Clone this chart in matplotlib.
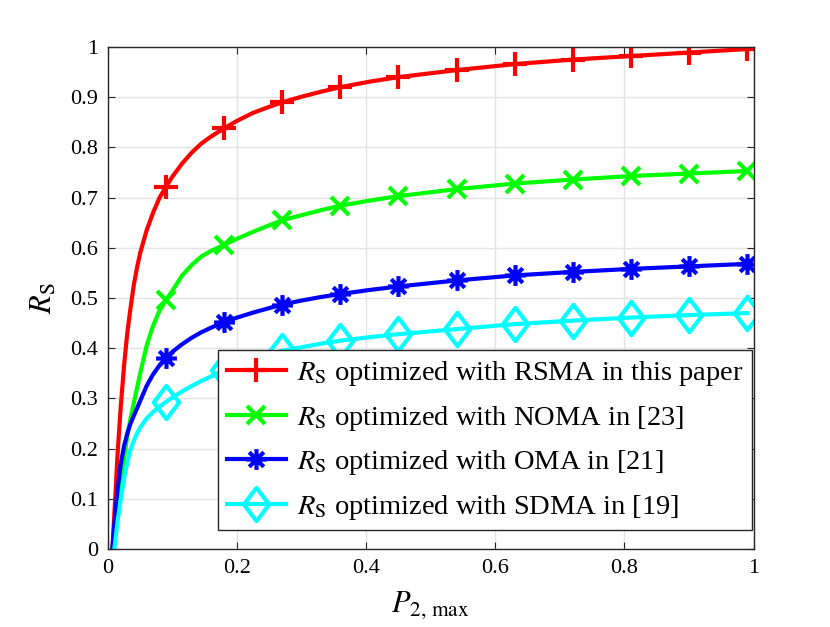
import numpy as np
import matplotlib
matplotlib.use("Agg")
import matplotlib.pyplot as plt
from matplotlib.path import Path

plt.rcParams['font.family'] = ['Liberation Serif', 'DejaVu Serif']
plt.rcParams['mathtext.fontset'] = 'stix'

# power budget P_2,max
p2max = [0.007, 0.01, 0.015, 0.02, 0.025, 0.03, 0.035, 0.04, 0.045, 0.05,
         0.06, 0.07, 0.08, 0.09, 0.1, 0.115, 0.13, 0.145, 0.16, 0.18,
         0.2, 0.225, 0.25, 0.27, 0.3, 0.33, 0.36, 0.405, 0.45, 0.54,
         0.63, 0.72, 0.81, 0.90, 0.99]

rs_rsma = [0.0, 0.07, 0.19, 0.285, 0.365, 0.43, 0.48, 0.525, 0.56, 0.59,
           0.635, 0.67, 0.70, 0.722, 0.742, 0.768, 0.79, 0.808, 0.822, 0.838,
           0.853, 0.869, 0.881, 0.890, 0.901, 0.911, 0.920, 0.931, 0.940, 0.954,
           0.966, 0.975, 0.982, 0.989, 0.996]
rs_noma = [0.0, 0.03, 0.08, 0.13, 0.18, 0.225, 0.26, 0.29, 0.32, 0.35,
           0.405, 0.445, 0.475, 0.496, 0.515, 0.545, 0.566, 0.583, 0.594, 0.606,
           0.618, 0.632, 0.645, 0.655, 0.665, 0.675, 0.684, 0.694, 0.703, 0.717,
           0.728, 0.736, 0.743, 0.748, 0.753]
rs_oma = [0.0, 0.05, 0.12, 0.17, 0.205, 0.23, 0.25, 0.265, 0.28, 0.295,
          0.325, 0.348, 0.366, 0.381, 0.393, 0.408, 0.421, 0.432, 0.441, 0.452,
          0.461, 0.471, 0.480, 0.487, 0.495, 0.502, 0.508, 0.516, 0.523, 0.535,
          0.545, 0.552, 0.558, 0.563, 0.568]
rs_sdma = [np.nan, 0.0, 0.055, 0.10, 0.14, 0.172, 0.198, 0.215, 0.23, 0.242,
           0.26, 0.273, 0.284, 0.293, 0.302, 0.314, 0.325, 0.335, 0.344, 0.357,
           0.366, 0.378, 0.388, 0.395, 0.402, 0.409, 0.415, 0.422, 0.428, 0.438,
           0.448, 0.455, 0.461, 0.466, 0.470]

labels = [r'$R_{\mathrm{S}}$ optimized with RSMA in this paper',
          r'$R_{\mathrm{S}}$ optimized with NOMA in [23]',
          r'$R_{\mathrm{S}}$ optimized with OMA in [21]',
          r'$R_{\mathrm{S}}$ optimized with SDMA in [19]']

# markers at 0.09, 0.18, ... 0.99
mark_idx = [i for i, v in enumerate(p2max) if abs(v / 0.09 - round(v / 0.09)) < 1e-6]

# matlab style asterisk and (slightly tall) diamond
asterisk = Path([(0, -1), (0, 1), (-1, 0), (1, 0), (-0.7, -0.7), (0.7, 0.7),
                 (-0.7, 0.7), (0.7, -0.7)],
                [Path.MOVETO, Path.LINETO] * 4)
diamond = Path([(0, -1), (0.76, 0), (0, 1), (-0.76, 0), (0, -1)],
               [Path.MOVETO, Path.LINETO, Path.LINETO, Path.LINETO, Path.CLOSEPOLY])

fig = plt.figure(figsize=(8.3, 6.27), dpi=100)
ax = fig.add_axes([0.130, 0.1244, 0.778, 0.8006])

styles = [('#ff0000', '+', 17), ('#00ff00', 'x', 13), ('#0000ff', asterisk, 15),
          ('#00ffff', diamond, 24)]
series = [rs_rsma, rs_noma, rs_oma, rs_sdma]

for ys, (col, mk, ms), lab in zip(series, styles, labels):
    ax.plot(p2max, ys, color=col, lw=3, marker=mk, markersize=ms, mew=3,
            markerfacecolor='none', markeredgecolor=col, markevery=mark_idx,
            label=lab)

ax.set_xlim(0, 1)
ax.set_ylim(0, 1)
ax.set_xticks(np.arange(0, 1.01, 0.2))
ax.set_xticklabels(['0', '0.2', '0.4', '0.6', '0.8', '1'])
ax.set_yticks(np.arange(0, 1.01, 0.1))
ax.set_yticklabels(['0', '0.1', '0.2', '0.3', '0.4', '0.5', '0.6', '0.7', '0.8', '0.9', '1'])
ax.tick_params(direction='in', top=True, right=True, labelsize=16, length=5,
               color='#262626', pad=7)
ax.grid(True, color='#e3e3e3', lw=1)
ax.set_axisbelow(True)
for s in ax.spines.values():
    s.set_color('#262626')
    s.set_linewidth(1)

ax.set_xlabel(r'$P_{\mathrm{2,\,max}}$', fontsize=22, labelpad=8)
ax.set_ylabel(r'$R_{\mathrm{S}}$', fontsize=22, labelpad=8)

leg = ax.legend(loc='lower right', bbox_to_anchor=(0.997, 0.037), fontsize=20.5,
                handlelength=2.1, frameon=True, fancybox=False, edgecolor='#262626',
                framealpha=1, borderpad=0.3, labelspacing=0.55, handletextpad=0.36,
                borderaxespad=0)
leg.get_frame().set_linewidth(1)

fig.savefig('out.png', dpi=100)
